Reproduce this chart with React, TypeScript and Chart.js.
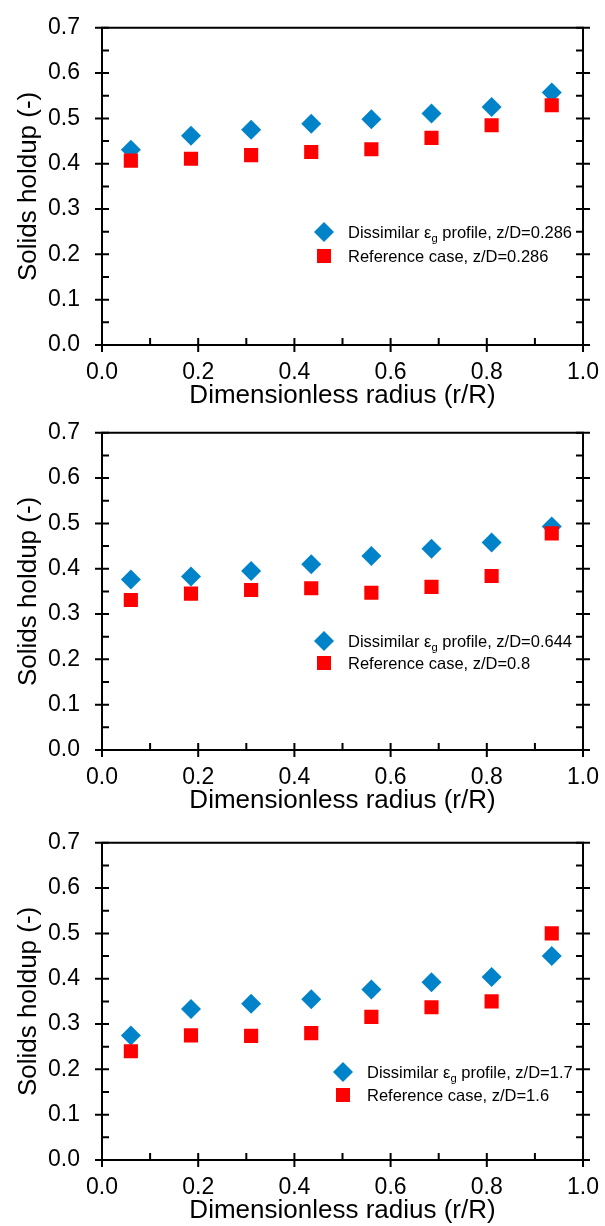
import React, { useEffect, useRef } from "react";
import { Chart, registerables } from "chart.js";

Chart.register(...registerables);

const RADIUS = [0.06, 0.185, 0.31, 0.435, 0.56, 0.685, 0.81, 0.935];

const DISSIMILAR_1 = [0.431, 0.462, 0.475, 0.488, 0.498, 0.511, 0.525, 0.557];
const REFERENCE_1 = [0.407, 0.411, 0.419, 0.426, 0.432, 0.457, 0.485, 0.529];
const DISSIMILAR_2 = [0.376, 0.383, 0.395, 0.41, 0.428, 0.444, 0.458, 0.493];
const REFERENCE_2 = [0.331, 0.345, 0.353, 0.357, 0.347, 0.36, 0.384, 0.478];
const DISSIMILAR_3 = [0.275, 0.333, 0.345, 0.355, 0.376, 0.392, 0.404, 0.45];
const REFERENCE_3 = [0.24, 0.275, 0.274, 0.28, 0.316, 0.337, 0.35, 0.5];

const LEGEND_DISSIMILAR = ["z/D=0.286", "z/D=0.644", "z/D=1.7"];
const LEGEND_REFERENCE = ["Reference case, z/D=0.286", "Reference case, z/D=0.8", "Reference case, z/D=1.6"];

const Y_TICKS = [0, 0.1, 0.2, 0.3, 0.4, 0.5, 0.6, 0.7];
const X_TICKS = [0, 0.2, 0.4, 0.6, 0.8, 1.0];

const BLUE = "#0083C9";
const RED = "#FF0000";
const FONT = "'Liberation Sans', Arial, sans-serif";

const PANELS = [
  { dis: DISSIMILAR_1, ref: REFERENCE_1, disLabel: LEGEND_DISSIMILAR[0], refLabel: LEGEND_REFERENCE[0], top: 0, lx: 324, ly1: 232, ly2: 256 },
  { dis: DISSIMILAR_2, ref: REFERENCE_2, disLabel: LEGEND_DISSIMILAR[1], refLabel: LEGEND_REFERENCE[1], top: 405, lx: 324, ly1: 236, ly2: 258 },
  { dis: DISSIMILAR_3, ref: REFERENCE_3, disLabel: LEGEND_DISSIMILAR[2], refLabel: LEGEND_REFERENCE[2], top: 815, lx: 343, ly1: 257, ly2: 280 },
];

const CANVAS_H = 412;

function drawDiamond(ctx: CanvasRenderingContext2D, x: number, y: number, r: number) {
  ctx.beginPath();
  ctx.moveTo(x, y - r);
  ctx.lineTo(x + r, y);
  ctx.lineTo(x, y + r);
  ctx.lineTo(x - r, y);
  ctx.closePath();
  ctx.fill();
}

const framePlugin = {
  id: "frame",
  beforeDatasetsDraw(chart: any) {
    const { ctx, chartArea } = chart;
    const { left, right, top, bottom } = chartArea;
    const xs = chart.scales.x;
    const ys = chart.scales.y;
    const T = 7;
    ctx.save();
    ctx.strokeStyle = "#000";
    ctx.lineWidth = 2;
    ctx.lineCap = "butt";
    ctx.beginPath();
    ctx.rect(left, top, right - left, bottom - top);
    ctx.stroke();
    ctx.beginPath();
    Y_TICKS.forEach((v) => {
      const py = ys.getPixelForValue(v);
      ctx.moveTo(left - T, py);
      ctx.lineTo(left + T, py);
      ctx.moveTo(right - T, py);
      ctx.lineTo(right + T, py);
    });
    for (let i = 0; i < Y_TICKS.length - 1; i++) {
      const py = ys.getPixelForValue((Y_TICKS[i] + Y_TICKS[i + 1]) / 2);
      ctx.moveTo(left, py);
      ctx.lineTo(left + T, py);
      ctx.moveTo(right - T, py);
      ctx.lineTo(right, py);
    }
    X_TICKS.forEach((v) => {
      const px = xs.getPixelForValue(v);
      ctx.moveTo(px, bottom - T);
      ctx.lineTo(px, bottom + T);
    });
    for (let i = 0; i < X_TICKS.length - 1; i++) {
      const px = xs.getPixelForValue((X_TICKS[i] + X_TICKS[i + 1]) / 2);
      ctx.moveTo(px, bottom - T);
      ctx.lineTo(px, bottom);
    }
    ctx.stroke();
    ctx.restore();
  },
};

const legendPlugin = {
  id: "customLegend",
  afterDatasetsDraw(chart: any, _args: any, opts: any) {
    const { ctx } = chart;
    const size = 16.5;
    ctx.save();
    ctx.textBaseline = "alphabetic";
    ctx.textAlign = "left";
    ctx.fillStyle = BLUE;
    drawDiamond(ctx, opts.lx, opts.ly1, 10);
    ctx.fillStyle = RED;
    ctx.fillRect(opts.lx - 7, opts.ly2 - 7, 14, 14);
    ctx.fillStyle = "#000";
    const tx = opts.lx + 24;
    const b1 = opts.ly1 + size * 0.36;
    ctx.font = `${size}px ${FONT}`;
    const part1 = "Dissimilar \u03B5";
    ctx.fillText(part1, tx, b1);
    let x = tx + ctx.measureText(part1).width;
    ctx.font = `${size * 0.68}px ${FONT}`;
    ctx.fillText("g", x, b1 + 4);
    x += ctx.measureText("g").width;
    ctx.font = `${size}px ${FONT}`;
    ctx.fillText(" profile, " + opts.disLabel, x, b1);
    const b2 = opts.ly2 + size * 0.36;
    ctx.fillText(opts.refLabel, tx, b2);
    ctx.restore();
  },
};

function Panel({ p }: { p: any }) {
  const ref = useRef<HTMLCanvasElement | null>(null);
  useEffect(() => {
    if (!ref.current) return;
    const chart = new Chart(ref.current, {
      type: "scatter",
      data: {
        datasets: [
          {
            label: "Dissimilar",
            data: RADIUS.map((r, i) => ({ x: r, y: p.dis[i] })),
            pointStyle: "rectRot",
            pointRadius: 10,
            pointBorderWidth: 0,
            backgroundColor: BLUE,
            borderColor: BLUE,
            order: 2,
          },
          {
            label: "Reference",
            data: RADIUS.map((r, i) => ({ x: r, y: p.ref[i] })),
            pointStyle: "rect",
            pointRadius: 10,
            pointBorderWidth: 0,
            backgroundColor: RED,
            borderColor: RED,
            order: 1,
          },
        ],
      },
      options: {
        animation: false,
        responsive: false,
        maintainAspectRatio: false,
        layout: { padding: { left: 0, right: 16, top: 21, bottom: 0 } },
        plugins: {
          legend: { display: false },
          tooltip: { enabled: false },
          customLegend: { lx: p.lx, ly1: p.ly1, ly2: p.ly2, disLabel: p.disLabel, refLabel: p.refLabel },
        } as any,
        scales: {
          x: {
            type: "linear",
            min: 0,
            max: 1,
            grid: { display: false },
            border: { display: false },
            ticks: {
              stepSize: 0.2,
              padding: 6,
              color: "#000",
              font: { family: FONT, size: 23 },
              callback: (v: any) => Number(v).toFixed(1),
            },
            title: {
              display: true,
              text: "Dimensionless radius (r/R)",
              color: "#000",
              font: { family: FONT, size: 26, lineHeight: 1 },
              padding: { top: 0, bottom: 3 },
            },
            afterFit: (s: any) => {
              s.height = CANVAS_H - 345;
            },
          },
          y: {
            type: "linear",
            min: 0,
            max: 0.7,
            grid: { display: false },
            border: { display: false },
            ticks: {
              stepSize: 0.1,
              padding: 14,
              color: "#000",
              font: { family: FONT, size: 23 },
              callback: (v: any) => Number(v).toFixed(1),
            },
            title: {
              display: true,
              text: "Solids holdup (-)",
              color: "#000",
              font: { family: FONT, size: 26, lineHeight: 1 },
              padding: { top: 16, bottom: 0 },
            },
            afterFit: (s: any) => {
              s.width = 102;
            },
          },
        },
      },
      plugins: [framePlugin, legendPlugin],
    });
    return () => chart.destroy();
  }, []);
  return (
    <canvas
      ref={ref}
      width={605}
      height={CANVAS_H}
      style={{ position: "absolute", left: 0, top: p.top, width: 605, height: CANVAS_H }}
    />
  );
}

export default function App() {
  return (
    <div style={{ position: "absolute", left: 0, top: 0, width: 605, height: 1226, background: "#fff" }}>
      {PANELS.map((p, i) => (
        <Panel key={i} p={p} />
      ))}
    </div>
  );
}
